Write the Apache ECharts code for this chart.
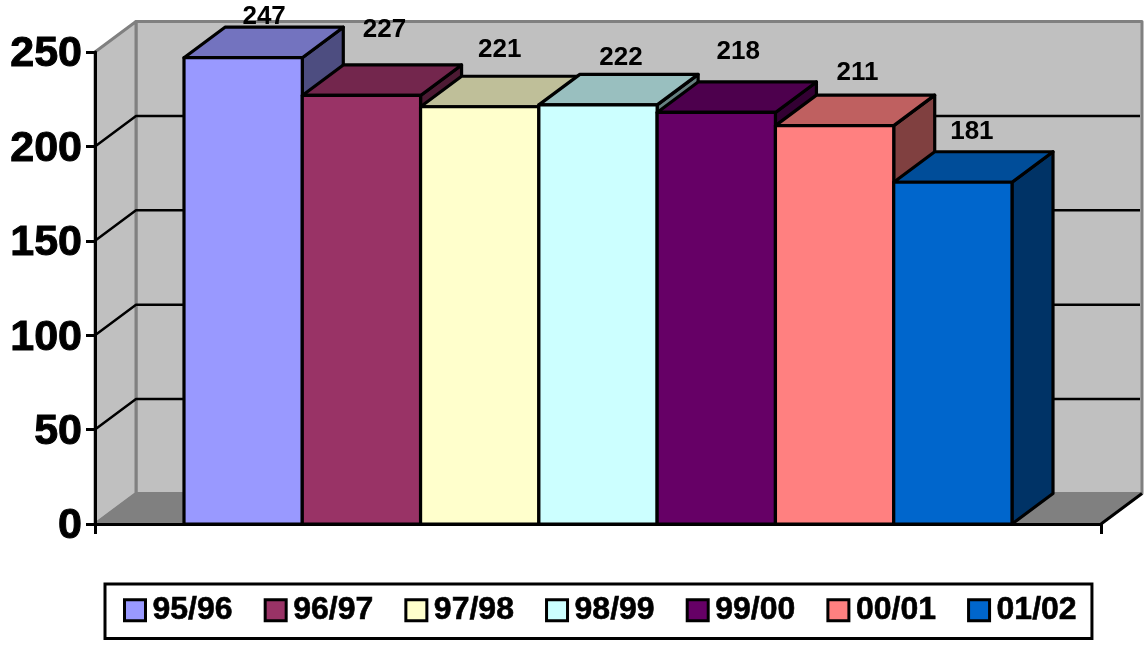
<!DOCTYPE html>
<html>
<head>
<meta charset="utf-8">
<style>html,body{margin:0;padding:0;background:#fff}#c{width:1144px;height:646px}</style>
<script src="https://cdn.jsdelivr.net/npm/echarts@6/dist/echarts.min.js"></script>
</head>
<body>
<div id="c"></div>
<script>
const seasons = ['95/96','96/97','97/98','98/99','99/00','00/01','01/02'];
const counts = [247,227,221,222,218,211,181];
const fills = ['#9999FF','#993366','#FFFFCC','#CCFFFF','#660066','#FF8080','#0066CC'];
const tops = ['#7373BF','#73264D','#BFBF99','#99BFBF','#4D004D','#BF6060','#004D99'];
const sides = ['#4D4D80','#4D1A33','#808066','#668080','#330033','#804040','#003366'];
const yTicks = [0,50,100,150,200,250];
const labelNudgeX = [21,23,20,23,22,23,19];
const labelNudgeY = [-41,-65.5,-57,-47,-60.6,-52.8,-50.5];
const DX = 41, DY = -30.5, LINE = 3.2, BAND_FILL = 828/1006, WALL_GREY = '#C0C0C0', EDGE_GREY = '#808080';

function poly(pts, fill, stroke, lw){
  return {type:'polygon', shape:{points:pts}, style:{fill:fill, stroke:stroke, lineWidth:lw, lineJoin:'round'}};
}
function seg(pts, stroke, lw){
  return {type:'polyline', shape:{points:pts}, style:{fill:null, stroke:stroke, lineWidth:lw, lineJoin:'round'}};
}
function renderWall(params, api){
  const v = api.value(0);
  const half = api.size([1,0])[0]/2;
  const cx = api.coord([0,0])[0];
  const L = cx-half, R = cx+half;
  const y = api.coord([0,v])[1];
  const kids = [];
  if (v === 0){
    const yT = api.coord([0,yTicks[yTicks.length-1]])[1];
    kids.push(poly([[L+DX,yT+DY],[R+DX,yT+DY],[R+DX,y+DY],[L+DX,y+DY]], WALL_GREY, EDGE_GREY, 3));
    kids.push(poly([[L,yT],[L+DX,yT+DY],[L+DX,y+DY],[L,y]], WALL_GREY, EDGE_GREY, 3));
    kids.push(poly([[L,y],[L+DX,y+DY],[R+DX,y+DY],[R,y]], EDGE_GREY, EDGE_GREY, 2));
    kids.push(seg([[R,y],[R+DX,y+DY]], '#000', 3));
  } else if (v !== yTicks[yTicks.length-1]){
    kids.push(seg([[L,y],[L+DX,y+DY],[R+DX-2,y+DY]], '#000', 2.5));
  }
  return {type:'group', children:kids};
}
function makeBarRenderer(i){
  return function(params, api){
    const band = api.size([1,0])[0];
    const w = band*BAND_FILL/seasons.length;
    const base = api.coord([0,0]);
    const top = api.coord([0,api.value(1)]);
    const x0 = base[0]+(i-seasons.length/2)*w, x1 = x0+w;
    const y0 = base[1], y1 = top[1];
    return {type:'group', children:[
      poly([[x1,y1],[x1+DX,y1+DY],[x1+DX,y0+DY],[x1,y0]], sides[i], '#000', LINE),
      poly([[x0,y1],[x0+DX,y1+DY],[x1+DX,y1+DY],[x1,y1]], tops[i], '#000', LINE),
      poly([[x0,y1],[x1,y1],[x1,y0],[x0,y0]], fills[i], '#000', LINE),
      {type:'text', style:{text:String(api.value(1)), x:(x0+x1)/2+labelNudgeX[i], y:y1+labelNudgeY[i],
        font:'bold 26px "Liberation Sans"', fill:'#000', textAlign:'center', textVerticalAlign:'middle'}}
    ]};
  };
}

const series = [{
  type:'custom', name:'walls', z:1, silent:true,
  data:yTicks.map(v=>[v]), encode:{y:0}, renderItem:renderWall
}].concat(seasons.map((name,i)=>({
  type:'custom', name:name, z:2, silent:true,
  itemStyle:{color:fills[i]},
  data:[[0,counts[i]]], encode:{x:0,y:1}, renderItem:makeBarRenderer(i)
})));

const chart = echarts.init(document.getElementById('c'), null, {renderer:'canvas'});
chart.setOption({
  animation:false,
  backgroundColor:'#fff',
  grid:{left:95, top:52, width:1006, height:472, containLabel:false},
  xAxis:{type:'category', data:[''], z:5,
    axisLine:{lineStyle:{color:'#000', width:3}},
    axisTick:{show:true, length:10, lineStyle:{color:'#000', width:3}},
    axisLabel:{show:false}, splitLine:{show:false}},
  yAxis:{type:'value', min:0, max:250, interval:50, z:5,
    axisLine:{show:true, lineStyle:{color:'#000', width:3}},
    axisTick:{show:true, length:9, lineStyle:{color:'#000', width:3}},
    axisLabel:{fontFamily:'Liberation Sans', fontWeight:'bold', fontSize:43, color:'#000', margin:13,
      verticalAlign:'top', padding:[-19,0,0,0], textBorderColor:'#000', textBorderWidth:1},
    splitLine:{show:false}},
  legend:{data:seasons, left:105, top:584, orient:'horizontal', icon:'rect', itemWidth:21, itemHeight:21, itemGap:30.8,
    padding:[10,15,12,18], backgroundColor:'#fff', borderColor:'#000', borderWidth:3,
    itemStyle:{borderColor:'#000', borderWidth:3},
    textStyle:{fontFamily:'Liberation Sans', fontWeight:'bold', fontSize:32, color:'#000', padding:[0,0,0,2],
      textBorderColor:'#000', textBorderWidth:0.6},
    selectedMode:false},
  tooltip:{show:false},
  series:series
});
</script>
</body>
</html>
